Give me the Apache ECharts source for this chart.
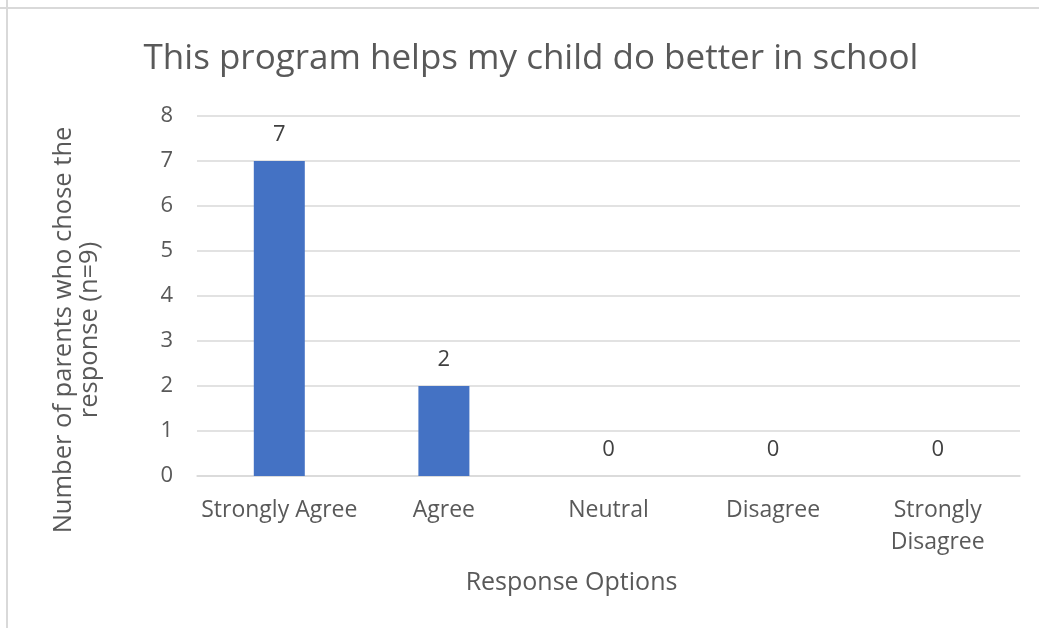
<!DOCTYPE html>
<html><head><meta charset="utf-8">
<script src="https://cdn.jsdelivr.net/npm/echarts@6/dist/echarts.min.js"></script>
<style>html,body{margin:0;padding:0;background:#fff}#c{width:1039px;height:628px}</style>
</head><body><div id="c"></div>
<script>
const title = 'This program helps my child do better in school';
const categories = ['Strongly Agree', 'Agree', 'Neutral', 'Disagree', 'Strongly\nDisagree'];
const values = [7, 2, 0, 0, 0];
const yTicks = { min: 0, max: 8, interval: 1 };
const xAxisName = 'Response Options';
const yAxisName = 'Number of parents who chose the\nresponse (n=9)';

const FONT = '"Open Sans", sans-serif';
const chart = echarts.init(document.getElementById('c'), null, { renderer: 'canvas' });
chart.setOption({
  animation: false,
  textStyle: { fontFamily: FONT },
  graphic: [
    { type: 'line', shape: { x1: 7, y1: 0, x2: 7, y2: 628 }, style: { stroke: '#d9d9d9', lineWidth: 2 } },
    { type: 'line', shape: { x1: 0, y1: 8, x2: 1039, y2: 8 }, style: { stroke: '#d9d9d9', lineWidth: 2 } }
  ],
  title: {
    text: title, left: 526, top: 37, textAlign: 'center',
    textStyle: { fontFamily: FONT, fontSize: 35, fontWeight: 'normal', color: '#595959' }
  },
  grid: { left: 197, right: 19, top: 116, bottom: 152 },
  xAxis: {
    type: 'category', data: categories,
    name: xAxisName, nameLocation: 'middle', nameGap: 94,
    nameTextStyle: { fontFamily: FONT, fontSize: 25, color: '#595959', padding: [0, 74, 0, 0] },
    axisLine: { lineStyle: { color: '#d9d9d9', width: 1.5 } },
    axisTick: { show: false },
    axisLabel: { color: '#595959', fontSize: 23, fontFamily: FONT, margin: 18, lineHeight: 32, interval: 0 }
  },
  yAxis: {
    type: 'value', min: yTicks.min, max: yTicks.max, interval: yTicks.interval,
    name: yAxisName, nameLocation: 'middle', nameGap: 94, nameRotate: 90,
    nameTextStyle: { fontFamily: FONT, fontSize: 25.5, color: '#595959', lineHeight: 26, padding: [0, 68, 0, 0] },
    axisLine: { show: false }, axisTick: { show: false },
    splitLine: { lineStyle: { color: '#d9d9d9', width: 1.5 } },
    axisLabel: { color: '#595959', fontSize: 22, fontFamily: FONT, margin: 24 }
  },
  series: [{
    type: 'bar', data: values, barWidth: 51,
    itemStyle: { color: '#4472c4' },
    label: { show: true, position: 'top', distance: 15, color: '#404040', fontSize: 22, fontFamily: FONT }
  }]
});
</script></body></html>
